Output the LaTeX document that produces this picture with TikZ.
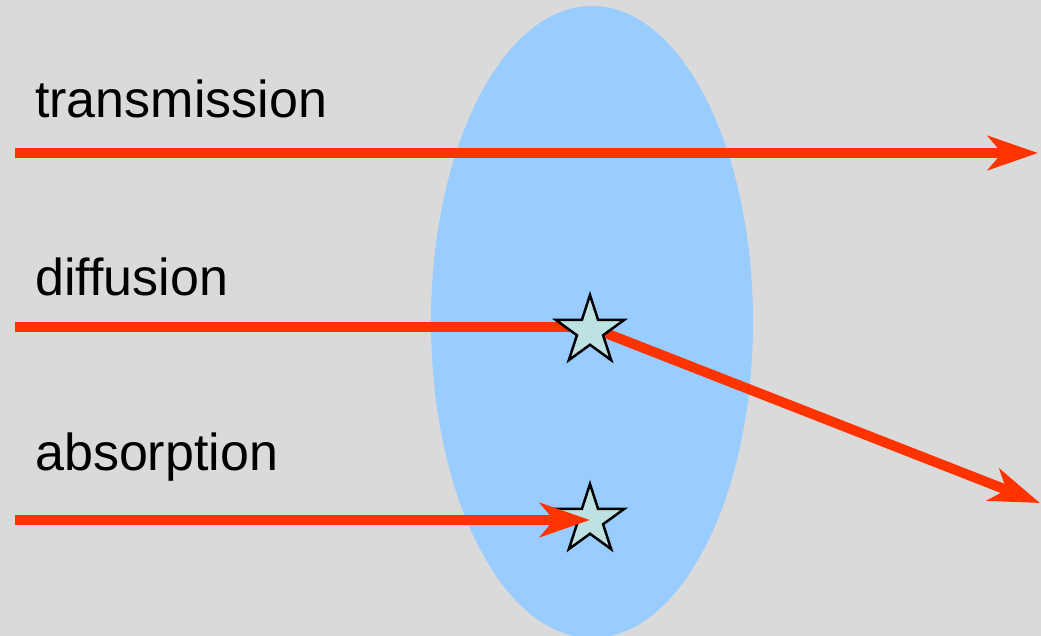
\documentclass[tikz,border=0pt]{standalone}
\usepackage{fontspec}
\setmainfont{Liberation Sans}
\usetikzlibrary{shapes.geometric,arrows.meta}
\definecolor{bggray}{RGB}{218,218,218}
\definecolor{lensblue}{RGB}{153,204,255}
\definecolor{rayred}{RGB}{255,51,0}
\definecolor{starfill}{RGB}{190,225,225}
\tikzset{
  ray/.style={draw=rayred, line width=10pt},
  rayarrow/.style={ray, -{Stealth[length=50pt,width=34pt,inset=14pt]}},
  event/.style={star, star points=5, star point ratio=2.618, minimum size=72pt, inner sep=0pt,
    draw=black, line width=2.5pt, fill=starfill},
  lbl/.style={font=\fontsize{52}{60}\selectfont, anchor=base west, inner sep=0pt, text=black}
}
\begin{document}
\begin{tikzpicture}[x=1pt,y=-1pt]
\fill[bggray] (0,0) rectangle (1041,636);
\useasboundingbox (0,0) rectangle (1041,636);
\begin{scope}
\clip (0,0) rectangle (1041,636);
\fill[lensblue] (592,322) ellipse[x radius=161, y radius=316];
\end{scope}
% labels
\node[lbl] (t) at (35,118) {transmission};
\node[lbl] (d) at (35,295) {diffusion};
\node[lbl] (a) at (35,470) {absorption};
% coordinates
\coordinate (t0) at (15,153);
\coordinate (t1) at (1038,153);
\coordinate (d0) at (15,327);
\coordinate (d1) at (1040,503);
\coordinate (a0) at (15,520);
% transmission
\draw[rayarrow] (t0) -- (t1);
% diffusion
\node[event, draw=none, fill=none] (s1) at (590,331) {};
\draw[ray] (d0) -- (590,327);
\draw[rayarrow] (590,327) -- (d1);
\node[event] (s1b) at (590,331) {};
% absorption
\node[event] (s2) at (590,520) {};
\draw[rayarrow] (a0) -- (s2.center);
\end{tikzpicture}
\end{document}
